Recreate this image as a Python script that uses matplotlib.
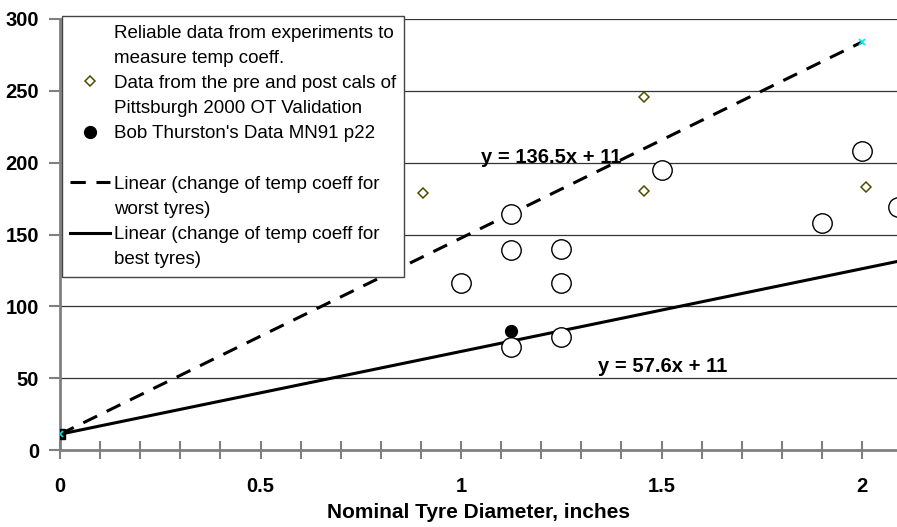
import matplotlib.pyplot as plt
from matplotlib.lines import Line2D
from matplotlib.ticker import MultipleLocator

plt.rcParams['font.family'] = ['Liberation Sans', 'DejaVu Sans']

# reliable experiments (open circles)
rel_x = [1.0, 1.125, 1.125, 1.125, 1.25, 1.25, 1.25, 1.5, 1.9, 2.0, 2.09]
rel_y = [116, 164, 139, 72, 140, 116, 79, 195, 158, 208, 169]

# Pittsburgh 2000 pre/post cals (diamonds)
pitt_x = [0.905, 1.455, 1.455, 2.01]
pitt_y = [179, 246, 180, 183]

# Bob Thurston MN91 p22
bob_x = [1.125]
bob_y = [83]

# trend lines (worst / best tyres)
worst_x = [0, 2]
worst_y = [11, 284]
best_x = [0, 2.2]
best_y = [11, 137.7]

worst_eq = "y = 136.5x + 11"
best_eq = "y = 57.6x + 11"

fig = plt.figure(figsize=(8.97, 5.27), dpi=100)
ax = fig.add_axes([60/897, 77/527, 1 - 60/897, 431/527])

ax.set_xlim(0, 2.087)
ax.set_ylim(0, 300)

for yv in [50, 100, 150, 200, 250, 300]:
    ax.axhline(yv, color='#333333', lw=0.9, zorder=0)

ax.plot(best_x, best_y, color='black', lw=2.2, zorder=2)
ax.plot(best_x[:1], best_y[:1], 's', color='black', ms=7, zorder=3)
ax.plot(worst_x, worst_y, color='black', lw=2.2, dashes=(5, 3.5), zorder=2)
ax.plot(worst_x, worst_y, 'x', color='#00e5ee', ms=5, mew=1.2, zorder=4,
        linestyle='none')

ax.plot(rel_x, rel_y, 'o', ms=14, mfc='white', mec='black', mew=1.0,
        linestyle='none', zorder=3)
ax.plot(pitt_x, pitt_y, 'D', ms=5, mfc='white', mec='#4d4d00', mew=1.1,
        linestyle='none', zorder=3)
ax.plot(bob_x, bob_y, 'o', ms=8.5, color='black', linestyle='none', zorder=4)

ax.text(1.05, 199.7, worst_eq, fontsize=14.5, fontweight='bold', zorder=5)
ax.text(1.342, 54.3, best_eq, fontsize=14.5, fontweight='bold', zorder=5)

for s in ['top', 'right']:
    ax.spines[s].set_visible(False)
ax.spines['left'].set_color('#808080')
ax.spines['left'].set_linewidth(2)
ax.spines['bottom'].set_color('#808080')
ax.spines['bottom'].set_linewidth(2)

ax.xaxis.set_minor_locator(MultipleLocator(0.1))
ax.yaxis.set_major_locator(MultipleLocator(50))
ax.set_xticks([0, 0.5, 1, 1.5, 2])
ax.set_xticklabels(['0', '0.5', '1', '1.5', '2'])
ax.tick_params(axis='x', which='both', direction='inout', length=13,
               width=1.5, color='#808080', pad=13)
ax.tick_params(axis='y', direction='out', length=8, width=1.5,
               color='#808080', pad=7)
for lab in ax.get_xticklabels() + ax.get_yticklabels():
    lab.set_fontsize(14.5)
    lab.set_fontweight('bold')

ax.set_xlabel('Nominal Tyre Diameter, inches', fontsize=15,
              fontweight='bold', labelpad=5)

blank = Line2D([], [], color='none', linestyle='none')
handles = [
    blank, blank,
    Line2D([], [], linestyle='none', marker='D', ms=5, mfc='white',
           mec='#4d4d00', mew=1.1),
    blank,
    Line2D([], [], linestyle='none', marker='o', ms=8.5, color='black'),
    blank,
    Line2D([], [], color='black', lw=2.2, dashes=(5, 3.5)),
    blank,
    Line2D([], [], color='black', lw=2.2),
    blank,
]
labels = [
    'Reliable data from experiments to', 'measure temp coeff.',
    'Data from the pre and post cals of', 'Pittsburgh 2000 OT Validation',
    "Bob Thurston's Data MN91 p22", ' ',
    'Linear (change of temp coeff for', 'worst tyres)',
    'Linear (change of temp coeff for', 'best tyres)',
]
leg = fig.legend(handles, labels, loc='upper left',
                 bbox_to_anchor=(62/897, 1 - 16/527), borderaxespad=0,
                 fontsize=13.5, frameon=True, fancybox=False, shadow=False,
                 handlelength=2.1, handletextpad=0.2, labelspacing=0.43,
                 borderpad=0.45)
leg.get_frame().set_edgecolor('#444444')
leg.get_frame().set_linewidth(1.0)
leg.get_frame().set_alpha(1)

fig.savefig('out.png', dpi=100)
